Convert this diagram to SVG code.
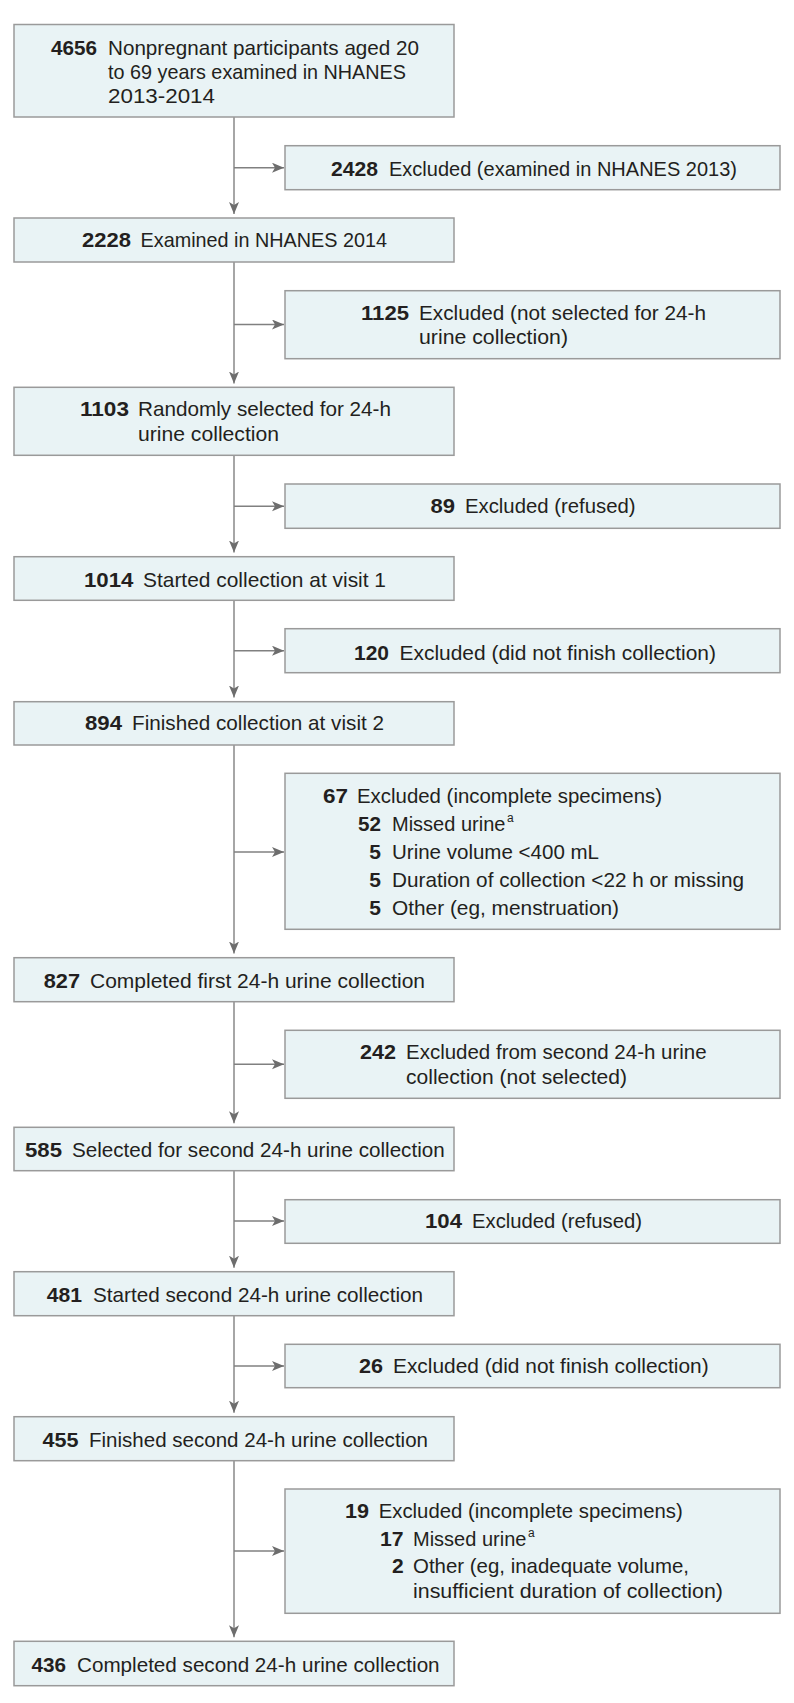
<svg xmlns="http://www.w3.org/2000/svg" width="794" height="1703" viewBox="0 0 794 1703">
<style>
.bx{fill:#e9f3f5;stroke:#9a9a9a;stroke-width:1.5}
text{font-family:"Liberation Sans",Arial,sans-serif;font-size:21px;fill:#231f20}
.n{font-weight:bold}
.e{text-anchor:end}
.ln{stroke:#808080;stroke-width:1.4;fill:none}
text.sup{font-size:12px}
text.m{font-size:20px}
</style>
<defs>
<marker id="ah" markerUnits="userSpaceOnUse" markerWidth="13" markerHeight="11" refX="12" refY="5" orient="auto" viewBox="0 0 13 11">
<path d="M0,0 L12,5 L0,10 L3,5 Z" fill="#6d6d6d"/>
</marker>
</defs>
<rect width="794" height="1703" fill="#ffffff"/>

<g id="connectors">
<line class="ln" x1="234" y1="117" x2="234" y2="214" marker-end="url(#ah)"/>
<line class="ln" x1="234" y1="167.7" x2="284" y2="167.7" marker-end="url(#ah)"/>
<line class="ln" x1="234" y1="262" x2="234" y2="383.5" marker-end="url(#ah)"/>
<line class="ln" x1="234" y1="324.5" x2="284" y2="324.5" marker-end="url(#ah)"/>
<line class="ln" x1="234" y1="455.3" x2="234" y2="552.5" marker-end="url(#ah)"/>
<line class="ln" x1="234" y1="506.3" x2="284" y2="506.3" marker-end="url(#ah)"/>
<line class="ln" x1="234" y1="600.3" x2="234" y2="697.5" marker-end="url(#ah)"/>
<line class="ln" x1="234" y1="650.7" x2="284" y2="650.7" marker-end="url(#ah)"/>
<line class="ln" x1="234" y1="745" x2="234" y2="953.5" marker-end="url(#ah)"/>
<line class="ln" x1="234" y1="852" x2="284" y2="852" marker-end="url(#ah)"/>
<line class="ln" x1="234" y1="1001.7" x2="234" y2="1123.3" marker-end="url(#ah)"/>
<line class="ln" x1="234" y1="1064.3" x2="284" y2="1064.3" marker-end="url(#ah)"/>
<line class="ln" x1="234" y1="1170.7" x2="234" y2="1267.7" marker-end="url(#ah)"/>
<line class="ln" x1="234" y1="1221" x2="284" y2="1221" marker-end="url(#ah)"/>
<line class="ln" x1="234" y1="1315.7" x2="234" y2="1412.7" marker-end="url(#ah)"/>
<line class="ln" x1="234" y1="1366" x2="284" y2="1366" marker-end="url(#ah)"/>
<line class="ln" x1="234" y1="1460.7" x2="234" y2="1637.3" marker-end="url(#ah)"/>
<line class="ln" x1="234" y1="1551" x2="284" y2="1551" marker-end="url(#ah)"/>
</g>

<g id="n4656">
<rect class="bx" x="14" y="24.5" width="440" height="92.5"/>
<text class="n" x="51" y="54.5" textLength="46" lengthAdjust="spacingAndGlyphs">4656</text>
<text x="108" y="54.5" textLength="311" lengthAdjust="spacingAndGlyphs">Nonpregnant participants aged 20</text>
<text x="108" y="78.5" textLength="298" lengthAdjust="spacingAndGlyphs">to 69 years examined in NHANES</text>
<text x="108" y="102.5" textLength="107" lengthAdjust="spacingAndGlyphs">2013-2014</text>
</g>

<g id="x2428">
<rect class="bx" x="285" y="145.7" width="495" height="44"/>
<text class="n" x="331" y="175.5" textLength="47" lengthAdjust="spacingAndGlyphs">2428</text>
<text x="389" y="175.5" textLength="348" lengthAdjust="spacingAndGlyphs">Excluded (examined in NHANES 2013)</text>
</g>

<g id="n2228">
<rect class="bx" x="14" y="218" width="440" height="44"/>
<text class="n" x="82" y="247.3" textLength="49" lengthAdjust="spacingAndGlyphs">2228</text>
<text x="140.6" y="247.3" textLength="246.4" lengthAdjust="spacingAndGlyphs">Examined in NHANES 2014</text>
</g>

<g id="x1125">
<rect class="bx" x="285" y="290.7" width="495" height="68"/>
<text class="n" x="361" y="320" textLength="48" lengthAdjust="spacingAndGlyphs">1125</text>
<text x="419" y="320" textLength="287" lengthAdjust="spacingAndGlyphs">Excluded (not selected for 24-h</text>
<text x="419" y="344" textLength="149" lengthAdjust="spacingAndGlyphs">urine collection)</text>
</g>

<g id="n1103">
<rect class="bx" x="14" y="387.3" width="440" height="68"/>
<text class="n" x="80" y="416.3" textLength="49" lengthAdjust="spacingAndGlyphs">1103</text>
<text x="138" y="416.3" textLength="253" lengthAdjust="spacingAndGlyphs">Randomly selected for 24-h</text>
<text x="138" y="440.5" textLength="141" lengthAdjust="spacingAndGlyphs">urine collection</text>
</g>

<g id="x89">
<rect class="bx" x="285" y="484" width="495" height="44.3"/>
<text class="n" x="430.5" y="513.3" textLength="24.5" lengthAdjust="spacingAndGlyphs">89</text>
<text x="465" y="513.3" textLength="170.5" lengthAdjust="spacingAndGlyphs">Excluded (refused)</text>
</g>

<g id="n1014">
<rect class="bx" x="14" y="556.7" width="440" height="43.6"/>
<text class="n" x="84" y="586.7" textLength="49.5" lengthAdjust="spacingAndGlyphs">1014</text>
<text x="143" y="586.7" textLength="243" lengthAdjust="spacingAndGlyphs">Started collection at visit 1</text>
</g>

<g id="x120">
<rect class="bx" x="285" y="628.7" width="495" height="44"/>
<text class="n" x="354" y="660" textLength="35" lengthAdjust="spacingAndGlyphs">120</text>
<text x="399.5" y="660" textLength="316.5" lengthAdjust="spacingAndGlyphs">Excluded (did not finish collection)</text>
</g>

<g id="n894">
<rect class="bx" x="14" y="701.7" width="440" height="43.3"/>
<text class="n" x="85" y="730" textLength="37" lengthAdjust="spacingAndGlyphs">894</text>
<text x="132" y="730" textLength="252" lengthAdjust="spacingAndGlyphs">Finished collection at visit 2</text>
</g>

<g id="x67">
<rect class="bx" x="285" y="773.3" width="495" height="156"/>
<text class="n" x="323" y="803.3" textLength="25" lengthAdjust="spacingAndGlyphs">67</text>
<text x="357" y="803.3" textLength="305" lengthAdjust="spacingAndGlyphs">Excluded (incomplete specimens)</text>
<text class="n e" x="381" y="831" textLength="23" lengthAdjust="spacingAndGlyphs">52</text>
<text class="m" x="392" y="831">Missed urine</text>
<text class="sup" x="507" y="822">a</text>
<text class="n e" x="381" y="859">5</text>
<text x="392" y="859" textLength="207" lengthAdjust="spacingAndGlyphs">Urine volume &lt;400 mL</text>
<text class="n e" x="381" y="887.3">5</text>
<text x="392" y="887.3" textLength="352" lengthAdjust="spacingAndGlyphs">Duration of collection &lt;22 h or missing</text>
<text class="n e" x="381" y="915">5</text>
<text x="392" y="915" textLength="227" lengthAdjust="spacingAndGlyphs">Other (eg, menstruation)</text>
</g>

<g id="n827">
<rect class="bx" x="14" y="957.7" width="440" height="44"/>
<text class="n" x="43.7" y="987.7" textLength="36.3" lengthAdjust="spacingAndGlyphs">827</text>
<text x="90" y="987.7" textLength="335" lengthAdjust="spacingAndGlyphs">Completed first 24-h urine collection</text>
</g>

<g id="x242">
<rect class="bx" x="285" y="1030.3" width="495" height="68"/>
<text class="n" x="360" y="1059.3" textLength="36" lengthAdjust="spacingAndGlyphs">242</text>
<text x="406" y="1059.3" textLength="300.6" lengthAdjust="spacingAndGlyphs">Excluded from second 24-h urine</text>
<text x="406" y="1084" textLength="221" lengthAdjust="spacingAndGlyphs">collection (not selected)</text>
</g>

<g id="n585">
<rect class="bx" x="14" y="1127.3" width="440" height="43.4"/>
<text class="n" x="25" y="1156.7" textLength="37" lengthAdjust="spacingAndGlyphs">585</text>
<text x="72" y="1156.7" textLength="372.7" lengthAdjust="spacingAndGlyphs">Selected for second 24-h urine collection</text>
</g>

<g id="x104">
<rect class="bx" x="285" y="1199.7" width="495" height="43.6"/>
<text class="n" x="425" y="1228.3" textLength="37" lengthAdjust="spacingAndGlyphs">104</text>
<text x="472" y="1228.3" textLength="170" lengthAdjust="spacingAndGlyphs">Excluded (refused)</text>
</g>

<g id="n481">
<rect class="bx" x="14" y="1271.7" width="440" height="44"/>
<text class="n" x="46.7" y="1301.7" textLength="35.3" lengthAdjust="spacingAndGlyphs">481</text>
<text x="93" y="1301.7" textLength="330" lengthAdjust="spacingAndGlyphs">Started second 24-h urine collection</text>
</g>

<g id="x26">
<rect class="bx" x="285" y="1344.3" width="495" height="43.4"/>
<text class="n" x="359" y="1373.3" textLength="24" lengthAdjust="spacingAndGlyphs">26</text>
<text x="393" y="1373.3" textLength="315.6" lengthAdjust="spacingAndGlyphs">Excluded (did not finish collection)</text>
</g>

<g id="n455">
<rect class="bx" x="14" y="1416.7" width="440" height="44"/>
<text class="n" x="42.6" y="1446.7" textLength="36" lengthAdjust="spacingAndGlyphs">455</text>
<text x="89" y="1446.7" textLength="339" lengthAdjust="spacingAndGlyphs">Finished second 24-h urine collection</text>
</g>

<g id="x19">
<rect class="bx" x="285" y="1489" width="495" height="124.3"/>
<text class="n" x="345" y="1518.3" textLength="24" lengthAdjust="spacingAndGlyphs">19</text>
<text x="378.7" y="1518.3" textLength="304" lengthAdjust="spacingAndGlyphs">Excluded (incomplete specimens)</text>
<text class="n e" x="403.6" y="1546" textLength="23.6" lengthAdjust="spacingAndGlyphs">17</text>
<text class="m" x="413" y="1546">Missed urine</text>
<text class="sup" x="528" y="1537">a</text>
<text class="n e" x="403.6" y="1573.3">2</text>
<text x="413" y="1573.3" textLength="276" lengthAdjust="spacingAndGlyphs">Other (eg, inadequate volume,</text>
<text x="413" y="1598.3" textLength="310" lengthAdjust="spacingAndGlyphs">insufficient duration of collection)</text>
</g>

<g id="n436">
<rect class="bx" x="14" y="1641.3" width="440" height="44.4"/>
<text class="n" x="31.5" y="1671.7" textLength="34.5" lengthAdjust="spacingAndGlyphs">436</text>
<text x="77" y="1671.7" textLength="362.6" lengthAdjust="spacingAndGlyphs">Completed second 24-h urine collection</text>
</g>
</svg>
